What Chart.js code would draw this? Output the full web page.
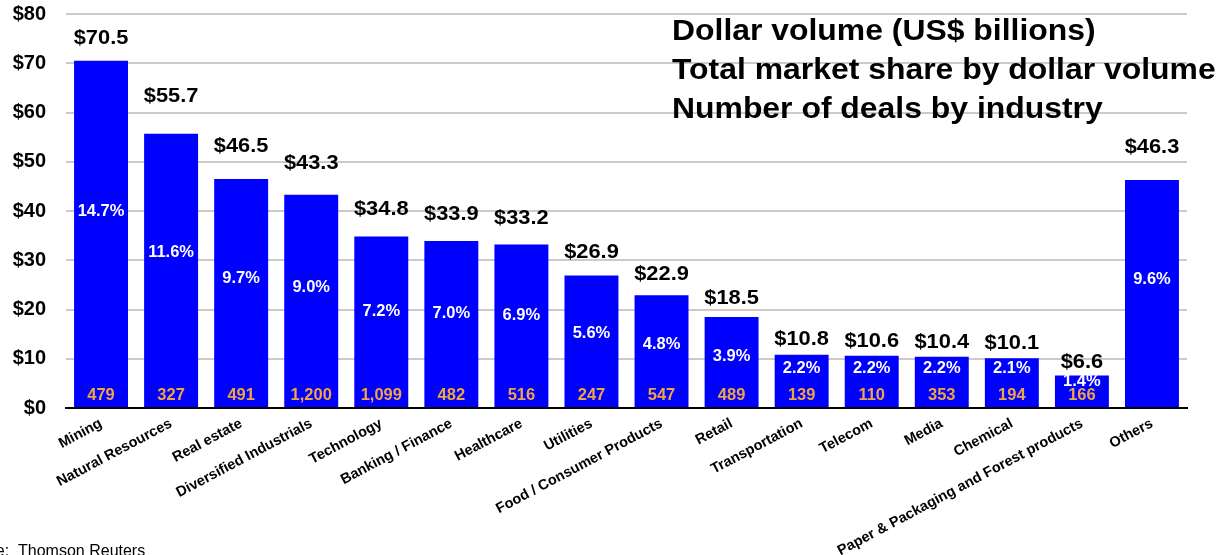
<!DOCTYPE html>
<html>
<head>
<meta charset="utf-8">
<script src="https://cdn.jsdelivr.net/npm/chart.js@4"></script>
<style>
  html, body { margin: 0; padding: 0; background: #fff; }
  #wrap { position: relative; width: 1223px; height: 555px; }
</style>
</head>
<body>
<div id="wrap"><canvas id="c" width="1223" height="555"></canvas></div>
<script>
// Industry breakdown of deals
const categories = [
  'Mining', 'Natural Resources', 'Real estate', 'Diversified Industrials',
  'Technology', 'Banking / Finance', 'Healthcare', 'Utilities',
  'Food / Consumer Products', 'Retail', 'Transportation', 'Telecom',
  'Media', 'Chemical', 'Paper & Packaging and Forest products', 'Others'
];
// Dollar volume, US$ billions
const dollarVolume = [70.5, 55.7, 46.5, 43.3, 34.8, 33.9, 33.2, 26.9, 22.9, 18.5, 10.8, 10.6, 10.4, 10.1, 6.6, 46.3];
// Share of total dollar volume, %
const marketShare = [14.7, 11.6, 9.7, 9.0, 7.2, 7.0, 6.9, 5.6, 4.8, 3.9, 2.2, 2.2, 2.2, 2.1, 1.4, 9.6];
// Number of deals
const dealCount = [479, 327, 491, 1200, 1099, 482, 516, 247, 547, 489, 139, 110, 353, 194, 166, null];
// Y axis ticks
const yTicks = [0, 10, 20, 30, 40, 50, 60, 70, 80];
const legendLines = ['Dollar volume (US$ billions)', 'Total market share by dollar volume', 'Number of deals by industry'];
const sourceNote = 'Source:  Thomson Reuters';

const FONT = '"Liberation Sans", Arial, sans-serif';

function stretchText(ctx, text, x, y, sx, align) {
  ctx.save();
  ctx.translate(x, y);
  ctx.scale(sx, 1);
  ctx.textAlign = align || 'left';
  ctx.fillText(text, 0, 0);
  ctx.restore();
}

const barLabels = {
  id: 'barLabels',
  afterDatasetsDraw(chart) {
    const ctx = chart.ctx;
    const y = chart.scales.y;
    const meta = chart.getDatasetMeta(0);
    ctx.save();
    ctx.textBaseline = 'middle';
    meta.data.forEach((bar, i) => {
      const v = dollarVolume[i];
      const top = bar.y;
      // value above the bar
      ctx.fillStyle = '#000';
      ctx.font = 'bold 21px ' + FONT;
      stretchText(ctx, '$' + v.toFixed(1), bar.x, y.getPixelForValue(Math.min(v * 1.1 + 2, 75)), 1.04, 'center');
      // share inside the bar
      const py = Math.max(top + 6, Math.min(y.getPixelForValue(v * 0.565), y.getPixelForValue(7.9)));
      ctx.fillStyle = '#fff';
      ctx.font = 'bold 16px ' + FONT;
      stretchText(ctx, marketShare[i].toFixed(1) + '%', bar.x, py, 1.03, 'center');
      // deal count near the base
      if (dealCount[i] != null) {
        ctx.fillStyle = '#f2a444';
        ctx.font = 'bold 16px ' + FONT;
        stretchText(ctx, dealCount[i].toLocaleString('en-US'), bar.x, y.getPixelForValue(2.6), 1.03, 'center');
      }
    });
    ctx.restore();
  },
  afterDraw(chart) {
    const ctx = chart.ctx;
    ctx.save();
    ctx.fillStyle = '#000';
    ctx.textBaseline = 'alphabetic';
    ctx.font = 'bold 29px ' + FONT;
    const base = [40, 79, 118];
    legendLines.forEach((t, i) => stretchText(ctx, t, 672, base[i], 1.1, 'left'));
    ctx.font = '16px ' + FONT;
    ctx.fillText(sourceNote, -46, 556);
    ctx.restore();
  }
};

new Chart(document.getElementById('c'), {
  type: 'bar',
  data: {
    labels: categories,
    datasets: [{
      data: dollarVolume,
      backgroundColor: '#0000ff',
      borderWidth: 0,
      categoryPercentage: 1,
      barPercentage: 0.77
    }]
  },
  options: {
    responsive: false,
    animation: false,
    layout: { autoPadding: false, padding: { left: 0, right: 36, top: 14, bottom: 0 } },
    plugins: { legend: { display: false }, tooltip: { enabled: false } },
    scales: {
      x: {
        grid: { display: false, drawTicks: false },
        border: { display: true, color: '#000', width: 2 },
        ticks: {
          color: '#000',
          font: { family: FONT, size: 14.5, weight: 'bold' },
          minRotation: 28, maxRotation: 28,
          autoSkip: false,
          padding: 7
        },
        afterFit(scale) { scale.height = 147; scale.paddingLeft = 0; scale.paddingRight = 0; }
      },
      y: {
        min: 0, max: 80,
        afterBuildTicks(scale) { scale.ticks = yTicks.map(v => ({ value: v })); },
        grid: { color: '#cfcac5', lineWidth: 2, drawTicks: false },
        border: { display: false },
        ticks: {
          color: '#000',
          font: { family: FONT, size: 20, weight: 'bold' },
          padding: 20,
          callback: v => '$' + v
        },
        afterFit(scale) { scale.width = 66; scale.paddingTop = 0; scale.paddingBottom = 0; }
      }
    }
  },
  plugins: [barLabels]
});
</script>
</body>
</html>
